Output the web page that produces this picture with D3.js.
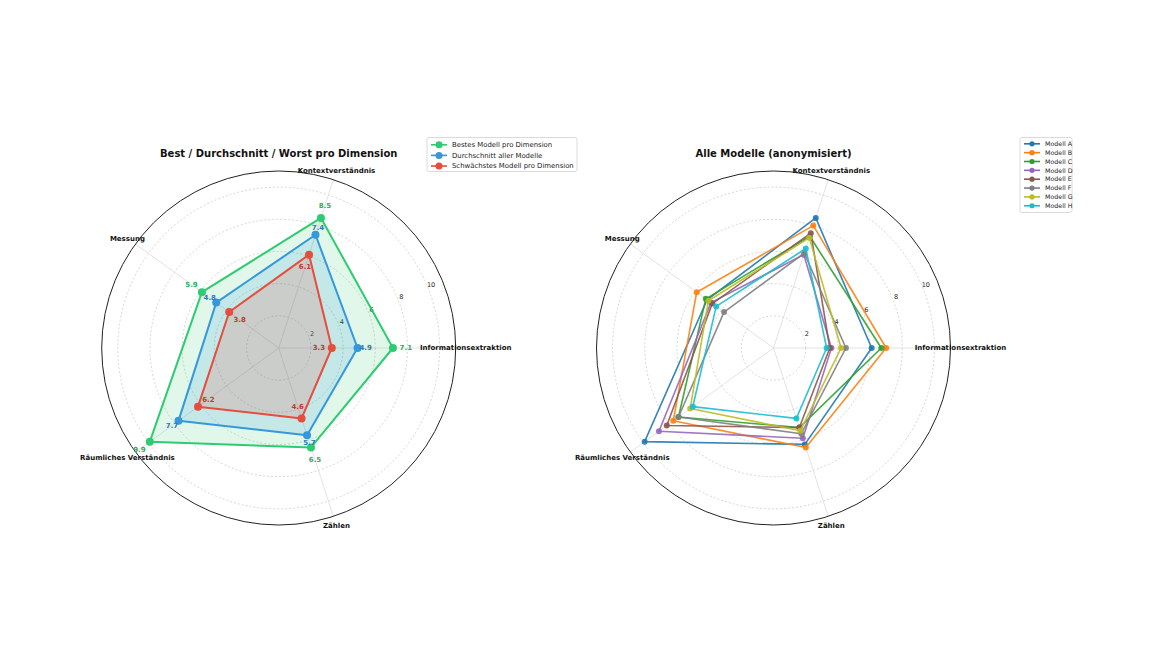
<!DOCTYPE html>
<html>
<head>
<meta charset="utf-8">
<script src="https://cdn.jsdelivr.net/npm/d3@7"></script>
<style>
  html, body { margin: 0; padding: 0; background: #fff; }
  svg { display: block; font-family: "DejaVu Sans", sans-serif; }
</style>
</head>
<body>
<div id="chart"></div>
<script>
const DIMENSIONS = ['Informationsextraktion', 'Kontextverständnis', 'Messung', 'Räumliches Verständnis', 'Zählen'];
const RADIAL_TICKS = [2, 4, 6, 8, 10];

// left panel
const BEST = [7.1, 8.5, 5.9, 9.9, 6.5];
const AVERAGE = [4.9, 7.4, 4.8, 7.7, 5.7];
const WORST = [3.3, 6.1, 3.8, 6.2, 4.6];
const SUMMARY_LABELS = ['Bestes Modell pro Dimension', 'Durchschnitt aller Modelle', 'Schwächstes Modell pro Dimension'];

// right panel
const MODEL_NAMES = ['Modell A', 'Modell B', 'Modell C', 'Modell D', 'Modell E', 'Modell F', 'Modell G', 'Modell H'];
const MODEL_SCORES = [
  [6.1, 8.5, 5.1, 9.9, 6.3],
  [7.0, 8.0, 5.9, 7.7, 6.5],
  [6.7, 7.3, 5.2, 7.3, 5.2],
  [3.6, 6.1, 4.8, 8.8, 5.9],
  [3.5, 7.5, 4.7, 8.2, 5.2],
  [4.5, 6.2, 3.8, 7.3, 5.6],
  [4.2, 7.2, 5.0, 6.4, 5.4],
  [3.3, 6.5, 4.4, 6.2, 4.6]
];
const MODEL_COLORS = ['#1f77b4', '#ff7f0e', '#2ca02c', '#9467bd', '#8c564b', '#7f7f7f', '#bcbd22', '#17becf'];

const WIDTH = 1152;
const HEIGHT = 670;
const RADIUS = 177;
const R_MAX = 11;

const svg = d3.select('#chart').append('svg')
  .attr('width', WIDTH)
  .attr('height', HEIGHT);

const rScale = d3.scaleLinear().domain([0, R_MAX]).range([0, RADIUS]);
// axis i sits at i*72deg, counter-clockwise from 3 o'clock
const angleOf = (i) => (i * 2 * Math.PI) / DIMENSIONS.length;
const px = (i, v) => rScale(v) * Math.cos(angleOf(i));
const py = (i, v) => -rScale(v) * Math.sin(angleOf(i));

const radialLine = d3.lineRadial()
  .angle((d, i) => Math.PI / 2 - angleOf(i))
  .radius((d) => rScale(d))
  .curve(d3.curveLinearClosed);

function drawFrame(g, title) {
  g.selectAll('.ring')
    .data(RADIAL_TICKS)
    .join('circle')
    .attr('r', (d) => rScale(d))
    .attr('fill', 'none')
    .attr('stroke', '#c4c4c4')
    .attr('stroke-width', 0.7)
    .attr('stroke-dasharray', '2,2');

  g.selectAll('.spoke')
    .data(DIMENSIONS)
    .join('line')
    .attr('x1', 0).attr('y1', 0)
    .attr('x2', (_, i) => px(i, R_MAX))
    .attr('y2', (_, i) => py(i, R_MAX))
    .attr('stroke', '#dcdcdc')
    .attr('stroke-width', 0.8);

  g.append('circle')
    .attr('r', rScale(R_MAX))
    .attr('fill', 'none')
    .attr('stroke', '#222')
    .attr('stroke-width', 1);

  const tickAngle = (22.5 * Math.PI) / 180;
  g.selectAll('.rtick')
    .data(RADIAL_TICKS)
    .join('text')
    .attr('x', (d) => (rScale(d) + 4) * Math.cos(tickAngle))
    .attr('y', (d) => -(rScale(d) + 4) * Math.sin(tickAngle))
    .attr('dy', '0.35em')
    .attr('text-anchor', 'middle')
    .attr('font-size', '6.5px')
    .attr('fill', '#222')
    .text((d) => d);

  g.selectAll('.dim-label')
    .data(DIMENSIONS)
    .join('text')
    .attr('x', (_, i) => 187 * Math.cos(angleOf(i)))
    .attr('y', (_, i) => -187 * Math.sin(angleOf(i)))
    .attr('dy', '0.35em')
    .attr('text-anchor', 'middle')
    .attr('font-size', '7px')
    .attr('font-weight', 'bold')
    .attr('fill', '#111')
    .text((d) => d);

  g.append('text')
    .attr('x', 0)
    .attr('y', -195)
    .attr('dy', '0.35em')
    .attr('text-anchor', 'middle')
    .attr('font-size', '10px')
    .attr('font-weight', 'bold')
    .attr('fill', '#111')
    .text(title);
}

function drawSeries(g, values, color, opts) {
  if (opts.fill) {
    g.append('path')
      .attr('d', radialLine(values))
      .attr('fill', color)
      .attr('fill-opacity', opts.fill);
  }
  g.append('path')
    .attr('d', radialLine(values))
    .attr('fill', 'none')
    .attr('stroke', color)
    .attr('stroke-width', opts.width)
    .attr('stroke-opacity', opts.opacity || 1)
    .attr('stroke-linejoin', 'round');
  g.selectAll(null)
    .data(values)
    .join('circle')
    .attr('cx', (d, i) => px(i, d))
    .attr('cy', (d, i) => py(i, d))
    .attr('r', opts.marker)
    .attr('fill', color)
    .attr('fill-opacity', opts.opacity || 1);
}

function drawLegend(x, y, w, h, rowY, rowH, items, fontSize, markerR) {
  const lg = svg.append('g');
  lg.append('rect')
    .attr('x', x).attr('y', y)
    .attr('width', w).attr('height', h)
    .attr('rx', 2)
    .attr('fill', '#fff')
    .attr('stroke', '#d0d0d0')
    .attr('stroke-width', 0.8);
  const rows = lg.selectAll('.row')
    .data(items)
    .join('g')
    .attr('transform', (_, i) => `translate(${x},${rowY + i * rowH})`);
  rows.append('line')
    .attr('x1', 4).attr('x2', 20)
    .attr('stroke', (d) => d.color)
    .attr('stroke-width', 1.6);
  rows.append('circle')
    .attr('cx', 12)
    .attr('r', markerR)
    .attr('fill', (d) => d.color);
  rows.append('text')
    .attr('x', 25)
    .attr('dy', '0.35em')
    .attr('font-size', fontSize + 'px')
    .attr('fill', '#222')
    .text((d) => d.label);
}

// ---- left: best / average / worst ----
const left = svg.append('g').attr('transform', 'translate(278.7,348)');
drawFrame(left, 'Best / Durchschnitt / Worst pro Dimension');

const summary = [
  { values: BEST, color: '#2ecc71', text: '#27ae60', fill: 0.15, offset: 0.8 },
  { values: AVERAGE, color: '#3498db', text: '#2a7bbd', fill: 0.16, offset: 0.5 },
  { values: WORST, color: '#e74c3c', text: '#c0392b', fill: 0.17, offset: -0.8 }
];
summary.forEach((s) => drawSeries(left, s.values, s.color, { fill: s.fill, width: 2, marker: 4 }));
summary.forEach((s) => {
  left.selectAll(null)
    .data(s.values)
    .join('text')
    .attr('x', (d, i) => px(i, d + s.offset))
    .attr('y', (d, i) => py(i, d + s.offset))
    .attr('dy', '0.35em')
    .attr('text-anchor', 'middle')
    .attr('font-size', '7px')
    .attr('font-weight', 'bold')
    .attr('fill', s.text)
    .text((d) => d.toFixed(1));
});

drawLegend(427, 137.5, 150, 34, 144.8, 10.6,
  summary.map((s, i) => ({ label: SUMMARY_LABELS[i], color: s.color })), 6.9, 3.5);

// ---- right: all models ----
const right = svg.append('g').attr('transform', 'translate(773.5,348)');
drawFrame(right, 'Alle Modelle (anonymisiert)');
MODEL_SCORES.forEach((scores, m) =>
  drawSeries(right, scores, MODEL_COLORS[m], { width: 1.6, marker: 3, opacity: 0.9 }));

drawLegend(1020, 137.5, 52, 75, 143.8, 8.85,
  MODEL_NAMES.map((n, i) => ({ label: n, color: MODEL_COLORS[i] })), 6.3, 2.6);
</script>
</body>
</html>
